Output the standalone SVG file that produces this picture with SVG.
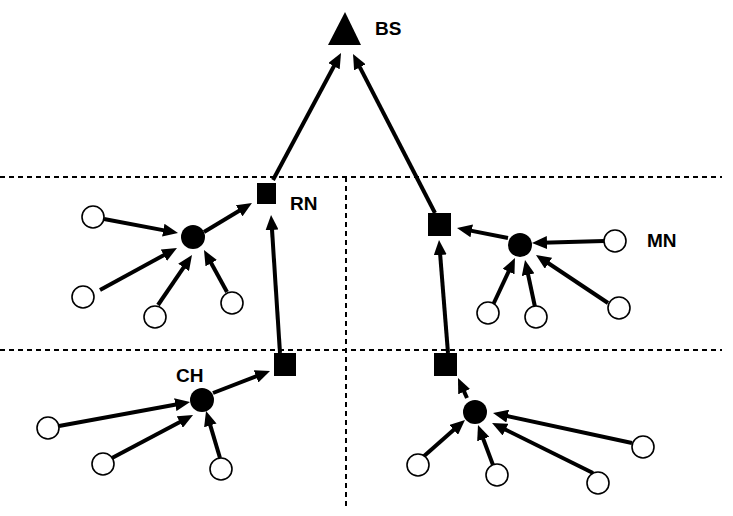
<svg xmlns="http://www.w3.org/2000/svg" width="733" height="516" viewBox="0 0 733 516">
<style>
.dash{stroke:#000;stroke-width:2;stroke-dasharray:5,4;fill:none}
.ln{stroke:#000;stroke-width:4;fill:none;marker-end:url(#ah)}
.mn{fill:#fff;stroke:#000;stroke-width:1.6}
.ch{fill:#000}
.sq{fill:#000}
.lbl{font-family:"Liberation Sans",Arial,sans-serif;font-weight:bold;font-size:19px;fill:#000}
</style>
<defs>
<marker id="ah" markerUnits="userSpaceOnUse" markerWidth="15" markerHeight="13" viewBox="0 0 15 13" refX="5" refY="6.5" orient="auto">
<path d="M0,0 L15,6.5 L0,13 z" fill="#000"/>
</marker>
</defs>
<rect width="733" height="516" fill="#fff"/>
<g id="grid">
<line class="dash" x1="0" y1="177" x2="722" y2="177"/>
<line class="dash" x1="0" y1="350" x2="722" y2="350"/>
<line class="dash" x1="346" y1="177" x2="346" y2="510"/>
</g>
<g id="connectors">
<line class="ln" x1="273" y1="180" x2="336.3" y2="61.8"/>
<line class="ln" x1="435" y1="213" x2="357.6" y2="62.9"/>
<line class="ln" x1="280" y1="353" x2="271.7" y2="225"/>
<line class="ln" x1="448" y1="353" x2="439.8" y2="250"/>
<line class="ln" x1="204" y1="232" x2="243.4" y2="208.2"/>
<line class="ln" x1="104" y1="219" x2="168.2" y2="231.1"/>
<line class="ln" x1="100" y1="290" x2="168.2" y2="252.8"/>
<line class="ln" x1="158" y1="305" x2="186.4" y2="263.3"/>
<line class="ln" x1="227" y1="292" x2="208.8" y2="258.8"/>
<line class="ln" x1="213" y1="393" x2="260.7" y2="374.6"/>
<line class="ln" x1="59" y1="426" x2="180.2" y2="403.8"/>
<line class="ln" x1="112" y1="458" x2="184.2" y2="419.7"/>
<line class="ln" x1="220" y1="458" x2="208.9" y2="420.6"/>
<line class="ln" x1="508" y1="238" x2="466.8" y2="229.9"/>
<line class="ln" x1="604" y1="241" x2="542" y2="242.7"/>
<line class="ln" x1="492" y1="307" x2="510.7" y2="267.1"/>
<line class="ln" x1="535" y1="307" x2="527.1" y2="269.8"/>
<line class="ln" x1="608" y1="303" x2="544.3" y2="260.5"/>
<line class="ln" x1="467" y1="398" x2="462.1" y2="387.1"/>
<line class="ln" x1="423" y1="457" x2="457.5" y2="426.6"/>
<line class="ln" x1="493" y1="465" x2="481.5" y2="434.4"/>
<line class="ln" x1="593" y1="473" x2="501" y2="427.4"/>
<line class="ln" x1="632" y1="443" x2="502.8" y2="415.1"/>
</g>
<g id="BS">
<path d="M345,12 L361,45 L328,45 z" fill="#000"/>
<text class="lbl" x="375" y="35">BS</text>
</g>
<g id="RN1">
<rect class="sq" x="257" y="183" width="19" height="21"/>
<text class="lbl" x="290" y="210">RN</text>
</g>
<g id="RN2"><rect class="sq" x="428" y="213" width="23" height="23"/></g>
<g id="RN3"><rect class="sq" x="274" y="353" width="22" height="23"/></g>
<g id="RN4"><rect class="sq" x="434" y="353" width="23" height="23"/></g>
<g id="CH1"><circle class="ch" cx="193" cy="237" r="12"/></g>
<g id="CH2">
<circle class="ch" cx="202" cy="400" r="12"/>
<text class="lbl" x="176" y="382">CH</text>
</g>
<g id="CH3"><circle class="ch" cx="520" cy="245" r="12"/></g>
<g id="CH4"><circle class="ch" cx="475" cy="412" r="12"/></g>
<g id="MN-label"><text class="lbl" x="647" y="247">MN</text></g>
<g id="mn1"><circle class="mn" cx="93" cy="217" r="11"/></g>
<g id="mn2"><circle class="mn" cx="83" cy="297" r="11"/></g>
<g id="mn3"><circle class="mn" cx="155" cy="317" r="11"/></g>
<g id="mn4"><circle class="mn" cx="232" cy="303" r="11"/></g>
<g id="mn5"><circle class="mn" cx="48" cy="428" r="11"/></g>
<g id="mn6"><circle class="mn" cx="103" cy="464" r="11"/></g>
<g id="mn7"><circle class="mn" cx="221" cy="469" r="11"/></g>
<g id="mn8"><circle class="mn" cx="615" cy="241" r="11"/></g>
<g id="mn9"><circle class="mn" cx="488" cy="313" r="11"/></g>
<g id="mn10"><circle class="mn" cx="536" cy="317" r="11"/></g>
<g id="mn11"><circle class="mn" cx="619" cy="308" r="11"/></g>
<g id="mn12"><circle class="mn" cx="418" cy="465" r="11"/></g>
<g id="mn13"><circle class="mn" cx="497" cy="475" r="11"/></g>
<g id="mn14"><circle class="mn" cx="598" cy="483" r="11"/></g>
<g id="mn15"><circle class="mn" cx="643" cy="447" r="11"/></g>
</svg>
